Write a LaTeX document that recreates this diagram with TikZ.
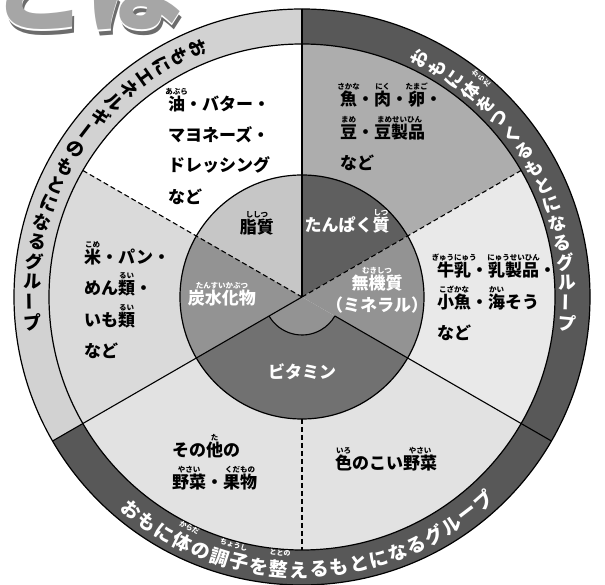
\documentclass[tikz,border=0pt]{standalone}
\usepackage{fontspec}
\newfontfamily\jp{Noto Sans CJK JP}
\newlength\rbraise
\setlength\rbraise{16pt}
\newcommand{\rb}[2]{\leavevmode\hbox{\setbox0=\hbox{#1}\rlap{\hbox to \wd0{\hss\raisebox{\rbraise}[0pt][0pt]{\fontsize{7.5pt}{7.5pt}\selectfont #2}\hss}}\box0}}
\definecolor{bandlight}{HTML}{D2D2D2}
\definecolor{banddark}{HTML}{585858}
\definecolor{secwhite}{HTML}{FFFFFF}
\definecolor{secrice}{HTML}{DADADA}
\definecolor{secfish}{HTML}{ADADAD}
\definecolor{secmilk}{HTML}{E9E9E9}
\definecolor{secveg}{HTML}{E2E2E2}
\definecolor{infat}{HTML}{C6C6C6}
\definecolor{incarb}{HTML}{939393}
\definecolor{inprot}{HTML}{5F5F5F}
\definecolor{inmin}{HTML}{939393}
\definecolor{invit}{HTML}{717171}
\newcommand{\ring}[5]{\fill[#1] (#2:#4pt) arc[start angle=#2,end angle=#3,radius=#4pt] -- (#3:#5pt) arc[start angle=#3,end angle=#2,radius=#5pt] -- cycle;}
\newcommand{\pie}[4]{\fill[#1] (0,0) -- (#2:#4pt) arc[start angle=#2,end angle=#3,radius=#4pt] -- cycle;}
\begin{document}
\begin{tikzpicture}[x=1pt,y=1pt,
  outline/.style={line width=1.2pt, draw=black},
  divline/.style={line width=1.1pt, draw=black},
  divdash/.style={line width=1.1pt, draw=black, dash pattern=on 5pt off 3pt},
  titletxt/.style={anchor=base west, inner sep=0pt, font=\jp\bfseries\fontsize{96pt}{96pt}\selectfont},
  bandtxt/.style={inner sep=0pt, font=\jp\bfseries\fontsize{18pt}{18pt}\selectfont},
  bottomtxt/.style={inner sep=0pt, font=\jp\bfseries\fontsize{19pt}{19pt}\selectfont, text=white},
  bandruby/.style={inner sep=0pt, font=\jp\bfseries\fontsize{7pt}{7pt}\selectfont, text=white},
  sectxt/.style={inner sep=0pt, anchor=west, font=\jp\bfseries\fontsize{17pt}{17pt}\selectfont},
  intxt/.style={inner sep=0pt, font=\jp\bfseries\fontsize{17pt}{17pt}\selectfont, text=white}
]
\useasboundingbox (-302,-288) rectangle (303,297);
% title (cut off at top)
\begin{scope}
\clip (-302,-288) rectangle (303,297);
\node[titletxt, text=gray!85!black] (titleshadow) at (-310,266) {とは};
\node[titletxt, text=white] (titlerim) at (-312,270) {とは};
\node[titletxt, text=gray!70] (title) at (-312,272) {とは};
\end{scope}
% outer bands
\ring{bandlight}{90}{210}{288}{253}
\ring{banddark}{-30}{90}{288}{253}
\ring{banddark}{210}{330}{288}{253}
% middle sectors
\ring{secwhite}{90}{150}{253}{122}
\ring{secrice}{150}{210}{253}{122}
\ring{secfish}{30}{90}{253}{122}
\ring{secmilk}{-30}{30}{253}{122}
\ring{secveg}{210}{330}{253}{122}
% inner circle
\pie{infat}{90}{150}{122}
\pie{incarb}{150}{210}{122}
\pie{inprot}{30}{90}{122}
\pie{inmin}{-30}{30}{122}
\pie{inmin}{210}{330}{38}
\ring{invit}{210}{330}{122}{38}
% outlines
\draw[outline] (0,0) circle[radius=288pt];
\draw[outline] (0,0) circle[radius=253pt];
\draw[outline] (0,0) circle[radius=122pt];
\draw[divline] (210:38pt) arc[start angle=210,end angle=330,radius=38pt];
\coordinate (c) at (0,0);
\coordinate (top) at (90:288pt);
\coordinate (ll) at (210:288pt);
\coordinate (lrin) at (330:38pt);
\coordinate (lr) at (330:288pt);
\coordinate (urd) at (30:253pt);
\coordinate (uld) at (150:253pt);
\coordinate (dnin) at (270:122pt);
\coordinate (dnout) at (270:253pt);
\draw[divline] (c) -- (top);
\draw[divline] (c) -- (ll);
\draw[divline] (lrin) -- (lr);
\draw[divdash] (c) -- (urd);
\draw[divdash] (c) -- (uld);
\draw[divdash] (dnin) -- (dnout);
% left band text (vertical, counter-clockwise)
\foreach \ch/\ex [count=\i from 0] in {お/0,も/0,に/0,エ/0,ネ/0,ル/0,ギ/0,ー/90,の/0,も/0,と/0,に/0,な/0,る/0,グ/0,ル/0,ー/90,プ/0}{
  \pgfmathsetmacro\a{112.6+\i*4.28}
  \node[bandtxt, rotate=\a-180+\ex] at (\a:270pt) {\ch};
}
% right band text (vertical, clockwise)
\foreach \ch/\ex [count=\i from 0] in {お/0,も/0,に/0,体/0,を/0,つ/0,く/0,る/0,も/0,と/0,に/0,な/0,る/0,グ/0,ル/0,ー/90,プ/0}{
  \pgfmathsetmacro\a{63.7-\i*4.33}
  \node[bandtxt, text=white, rotate=\a+\ex] at (\a:266pt) {\ch};
}
\foreach \ch/\k in {か/1,ら/0,だ/-1}{
  \pgfmathsetmacro\a{50.71+\k*1.5}
  \node[bandruby, rotate=\a] at (\a:283pt) {\ch};
}
% bottom band text (horizontal)
\foreach \ch [count=\i from 0] in {お,も,に,体,の,調,子,を,整,え,る,も,と,に,な,る,グ,ル,ー,プ}{
  \pgfmathsetmacro\a{231.3+\i*4.23}
  \node[bottomtxt, rotate=\a+90] at (\a:273pt) {\ch};
}
\node[bandruby, rotate=244.0+90] at (244.0:257pt) {からだ};
\node[bandruby, rotate=254.6+90] at (254.6:257pt) {ちょうし};
\node[bandruby, rotate=265.1+90] at (265.1:257pt) {ととの};
% upper-left sector
\node[sectxt] (ul1) at (-134,193) {\rb{油}{あぶら}・バター・};
\node[sectxt] (ul2) at (-134,162) {マヨネーズ・};
\node[sectxt] (ul3) at (-134,132) {ドレッシング};
\node[sectxt] (ul4) at (-134,100) {など};
% left sector
\node[sectxt] (l1) at (-218,40) {\rb{米}{こめ}・パン・};
\node[sectxt] (l2) at (-218,9) {めん\rb{類}{るい}・};
\node[sectxt] (l3) at (-218,-23) {いも\rb{類}{るい}};
\node[sectxt] (l4) at (-218,-54) {など};
% upper-right sector
\node[sectxt] (ur1) at (38,198) {\rb{魚}{さかな}・\rb{肉}{にく}・\rb{卵}{たまご}・};
\node[sectxt] (ur2) at (38,165) {\rb{豆}{まめ}・\rb{豆製品}{まめせいひん}};
\node[sectxt] (ur3) at (38,134) {など};
% right sector
\node[sectxt] (r1) at (135,27) {\rb{牛乳}{ぎゅうにゅう}・\rb{乳製品}{にゅうせいひん}・};
\node[sectxt] (r2) at (135,-5) {\rb{小魚}{こざかな}・\rb{海}{かい}そう};
\node[sectxt] (r3) at (135,-36) {など};
% lower-left sector
\node[sectxt] (ll1) at (-130,-153) {その\rb{他}{た}の};
\node[sectxt] (ll2) at (-130,-185) {\rb{野菜}{やさい}・\rb{果物}{くだもの}};
% lower-right sector
\node[sectxt] (lr1) at (33,-166) {\rb{色}{いろ}のこい\rb{野菜}{やさい}};
% inner labels
\node[intxt, text=black] (fat) at (-45,70) {\rb{脂質}{ししつ}};
\node[intxt] (prot) at (45,72) {たんぱく\rb{質}{しつ}};
\node[intxt] (carb) at (-80,-1) {\rb{炭水化物}{たんすいかぶつ}};
\node[intxt] (min) at (75,14) {\rb{無機質}{むきしつ}};
\node[intxt] (min2) at (75,-8) {（ミネラル）};
\node[intxt] (vit) at (0,-75) {ビタミン};
\end{tikzpicture}
\end{document}
